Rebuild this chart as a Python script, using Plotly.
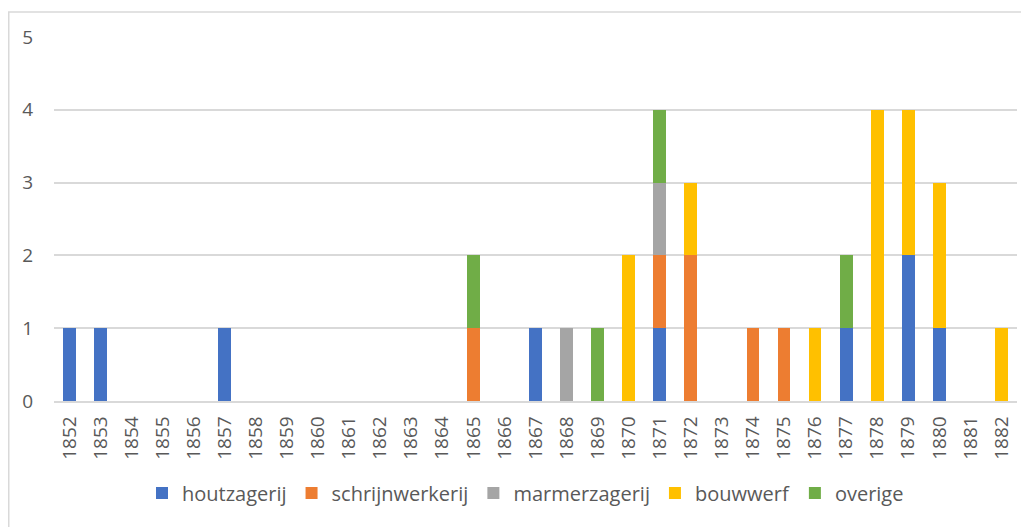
import plotly.graph_objects as go

years = [str(y) for y in range(1852, 1883)]
series_names = ["houtzagerij", "schrijnwerkerij", "marmerzagerij", "bouwwerf", "overige"]
colors = ["#4472C4", "#ED7D31", "#A5A5A5", "#FFC000", "#70AD47"]

#             1852..1882
houtzagerij =     [1,1,0,0,0,1,0,0,0,0,0,0,0,0,0,1,0,0,0,1,0,0,0,0,0,1,0,2,1,0,0]
schrijnwerkerij = [0,0,0,0,0,0,0,0,0,0,0,0,0,1,0,0,0,0,0,1,2,0,1,1,0,0,0,0,0,0,0]
marmerzagerij =   [0,0,0,0,0,0,0,0,0,0,0,0,0,0,0,0,1,0,0,1,0,0,0,0,0,0,0,0,0,0,0]
bouwwerf =        [0,0,0,0,0,0,0,0,0,0,0,0,0,0,0,0,0,0,2,0,1,0,0,0,1,0,4,2,2,0,1]
overige =         [0,0,0,0,0,0,0,0,0,0,0,0,0,1,0,0,0,1,0,1,0,0,0,0,0,1,0,0,0,0,0]

data = [houtzagerij, schrijnwerkerij, marmerzagerij, bouwwerf, overige]

fig = go.Figure()
for name, vals, col in zip(series_names, data, colors):
    fig.add_trace(go.Bar(x=years, y=vals, name=name, marker=dict(color=col, line=dict(width=0))))

font_family = "Open Sans, Liberation Sans, sans-serif"
txt = "#595959"
grid = "#D9D9D9"

# page has an 8px body margin: figure origin sits at (8, 8)
W, H = 1021, 519
L, R, T, B = 46, 12, 29, 126
pw = W - L - R
ph = H - T - B

fig.update_layout(
    barmode="stack",
    bargap=0.59,
    width=W, height=H,
    margin=dict(l=L, r=R, t=T, b=B, autoexpand=False),
    plot_bgcolor="white", paper_bgcolor="white",
    font=dict(family=font_family, size=19, color=txt),
    showlegend=True,
    legend=dict(orientation="h", x=0.5 - 10 / pw, xanchor="center", y=-(493 - 401) / ph, yanchor="middle",
                font=dict(size=20, color=txt), itemwidth=30, traceorder="normal"),
    xaxis=dict(type="category", tickangle=-90, showgrid=False, showline=True,
               linecolor=grid, linewidth=1.5, ticks="", ticklabelstandoff=6,
               tickfont=dict(size=19, color=txt)),
    yaxis=dict(range=[0, 5], dtick=1, showgrid=True, gridcolor=grid, gridwidth=1.5,
               zeroline=False, showline=False, ticks="", ticklabelstandoff=20,
               tickfont=dict(size=19, color=txt)),
    shapes=[dict(type="rect", xref="paper", yref="paper",
                 x0=(0.75 - L) / pw, x1=1.05, y0=-0.5, y1=(ph + T - 4) / ph,
                 line=dict(color="#D9D9D9", width=1.5), fillcolor="rgba(0,0,0,0)", layer="below")],
)

fig.write_html("out.html")
